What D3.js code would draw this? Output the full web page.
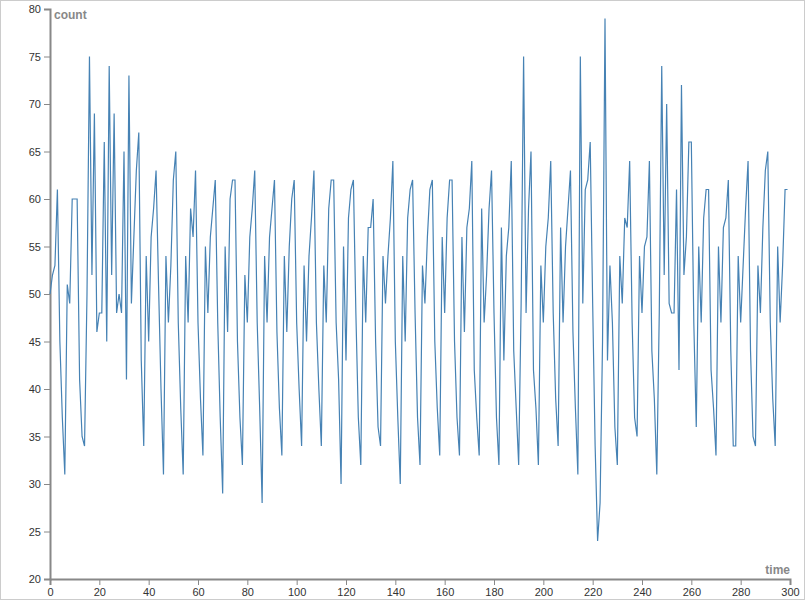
<!DOCTYPE html>
<html>
<head>
<meta charset="utf-8">
<script src="https://cdn.jsdelivr.net/npm/d3@7"></script>
<style>
  body { margin: 0; background: #fff; }
  svg { display: block; font-family: Arial, "Liberation Sans", sans-serif; }
  .axis path, .axis line { stroke: #888; }
  .axis path { stroke-width: 2; }
  .axis text { fill: #333; font-size: 11px; }
  .axis-label { fill: #888; font-weight: bold; font-size: 12px; }
  .series { fill: none; stroke: #4682b4; stroke-width: 1.2; }
</style>
</head>
<body>
<svg id="chart" width="805" height="600"></svg>
<script>
// one count per time step (t = 0 .. 299)
const counts = [
  50, 52, 53, 61, 45, 37, 31, 51, 49, 60,
  60, 60, 41, 35, 34, 50, 75, 52, 69, 46,
  48, 48, 66, 45, 74, 52, 69, 48, 50, 48,
  65, 41, 73, 49, 56, 63, 67, 43, 34, 54,
  45, 56, 59, 63, 51, 40, 31, 54, 47, 53,
  62, 65, 47, 38, 31, 54, 47, 59, 56, 63,
  47, 39, 33, 55, 48, 56, 59, 62, 47, 37,
  29, 55, 46, 60, 62, 62, 45, 37, 32, 52,
  47, 56, 59, 63, 47, 38, 28, 54, 47, 56,
  59, 62, 46, 38, 33, 54, 46, 55, 60, 62,
  47, 40, 34, 53, 45, 54, 58, 63, 47, 40,
  34, 53, 47, 59, 62, 62, 47, 41, 30, 55,
  43, 58, 61, 62, 48, 37, 32, 54, 47, 57,
  57, 60, 45, 36, 34, 54, 49, 54, 58, 64,
  45, 37, 30, 54, 45, 58, 61, 62, 48, 37,
  32, 53, 49, 56, 61, 62, 45, 38, 33, 56,
  48, 58, 62, 62, 45, 37, 33, 56, 46, 57,
  59, 64, 42, 37, 33, 59, 47, 52, 59, 63,
  48, 37, 32, 57, 43, 54, 57, 64, 44, 38,
  32, 49, 75, 48, 59, 65, 42, 38, 32, 53,
  47, 55, 58, 64, 48, 39, 34, 57, 47, 55,
  59, 63, 46, 38, 31, 75, 49, 61, 62, 66,
  49, 34, 24, 28, 45, 79, 43, 53, 47, 36,
  32, 54, 49, 58, 57, 64, 47, 37, 35, 54,
  48, 55, 56, 64, 44, 39, 31, 48, 74, 52,
  70, 49, 48, 48, 61, 42, 72, 52, 56, 66,
  66, 47, 36, 55, 47, 58, 61, 61, 42, 38,
  33, 55, 47, 57, 58, 62, 44, 34, 34, 54,
  47, 53, 59, 64, 44, 35, 34, 53, 48, 57,
  63, 65, 47, 39, 34, 55, 47, 53, 61, 61
];
const times = counts.map((c, i) => i);

const xTicks = d3.range(0, 301, 20);
const yTicks = d3.range(20, 81, 5);
const xDomain = [0, 300];
const yDomain = [20, 80];

const width = 805;
const height = 600;
const margin = { top: 9, right: 15, bottom: 21, left: 50 };

const svg = d3.select('#chart');

// light frame round the picture
svg.append('rect')
  .attr('x', 0.5)
  .attr('y', 0.5)
  .attr('width', width - 1)
  .attr('height', height - 1)
  .attr('fill', 'none')
  .attr('stroke', '#ccc');

const x = d3.scaleLinear()
  .domain(xDomain)
  .range([margin.left, width - margin.right]);

const y = d3.scaleLinear()
  .domain(yDomain)
  .range([height - margin.bottom, margin.top]);

svg.append('g')
  .attr('class', 'axis x-axis')
  .attr('transform', `translate(0,${height - margin.bottom})`)
  .call(d3.axisBottom(x).tickValues(xTicks));

svg.append('g')
  .attr('class', 'axis y-axis')
  .attr('transform', `translate(${margin.left},0)`)
  .call(d3.axisLeft(y).tickValues(yTicks));

const line = d3.line()
  .x((d, i) => x(times[i]))
  .y(d => y(d));

svg.append('path')
  .datum(counts)
  .attr('class', 'series')
  .attr('d', line);

// axis titles
svg.append('text')
  .attr('class', 'axis-label')
  .attr('x', margin.left + 4)
  .attr('y', margin.top + 10)
  .text('count');

svg.append('text')
  .attr('class', 'axis-label')
  .attr('x', width - margin.right)
  .attr('y', height - margin.bottom - 5)
  .attr('text-anchor', 'end')
  .text('time');
</script>
</body>
</html>
